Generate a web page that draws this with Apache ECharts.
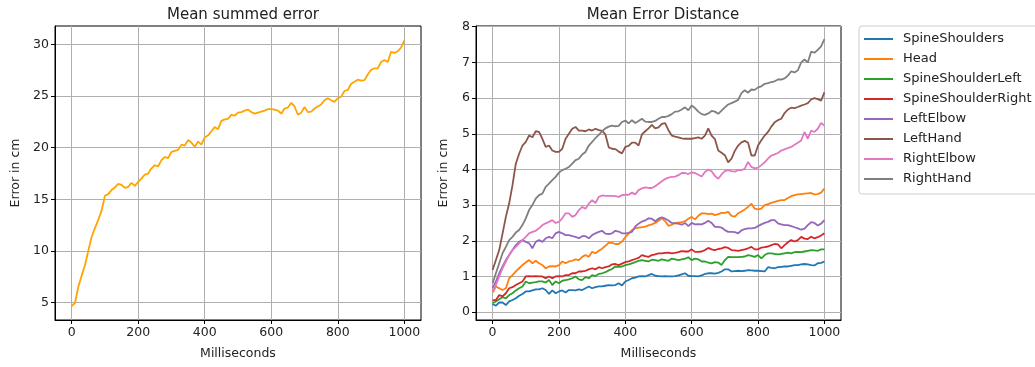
<!DOCTYPE html>
<html>
<head>
<meta charset="utf-8">
<script src="https://cdn.jsdelivr.net/npm/echarts@6/dist/echarts.min.js"></script>
<style>html,body{margin:0;padding:0;background:#fff;}#c{width:1035px;height:367px;}</style>
</head>
<body>
<div id="c"></div>
<script>
const ms = [0,10,20,30,40,50,60,70,80,90,100,110,120,130,140,150,160,170,180,190,200,210,220,230,240,250,260,270,280,290,300,310,320,330,340,350,360,370,380,390,400,410,420,430,440,450,460,470,480,490,500,510,520,530,540,550,560,570,580,590,600,610,620,630,640,650,660,670,680,690,700,710,720,730,740,750,760,770,780,790,800,810,820,830,840,850,860,870,880,890,900,910,920,930,940,950,960,970,980,990,1000];
const xTicks = [0,200,400,600,800,1000];
const yTicksLeft = [5,10,15,20,25,30];
const yTicksRight = [0,1,2,3,4,5,6,7,8];

const summedError = [4.66,4.95,6.5,7.6,8.6,10.0,11.35,12.2,13.0,13.9,15.35,15.5,15.9,16.15,16.5,16.4,16.1,16.2,16.6,16.3,16.7,17.0,17.4,17.5,18.0,18.3,18.2,18.8,19.1,19.0,19.6,19.7,19.8,20.3,20.2,20.75,20.5,20.1,20.6,20.3,21.0,21.2,21.6,22.0,21.8,22.6,22.75,22.8,23.2,23.1,23.4,23.45,23.6,23.7,23.45,23.3,23.4,23.5,23.6,23.75,23.75,23.7,23.6,23.3,23.8,23.9,24.35,24.0,23.2,23.4,23.95,23.45,23.5,23.8,24.0,24.2,24.6,24.8,24.6,24.45,24.8,24.95,25.5,25.6,26.2,26.4,26.6,26.5,26.55,27.1,27.55,27.7,27.7,28.3,28.5,28.3,29.3,29.2,29.35,29.7,30.4];

const spineShoulders = [0.23,0.18,0.27,0.27,0.2,0.3,0.34,0.39,0.46,0.51,0.58,0.58,0.61,0.64,0.64,0.67,0.62,0.51,0.61,0.53,0.58,0.61,0.55,0.62,0.62,0.61,0.64,0.62,0.67,0.72,0.67,0.7,0.72,0.72,0.74,0.76,0.75,0.76,0.81,0.75,0.86,0.9,0.95,0.97,1.0,1.01,1.0,1.04,1.07,1.02,1.01,1.0,1.01,1.0,1.0,1.01,1.03,1.06,1.09,1.02,1.01,1.01,1.0,1.03,1.07,1.09,1.09,1.08,1.1,1.14,1.2,1.2,1.14,1.15,1.16,1.15,1.16,1.18,1.17,1.16,1.16,1.15,1.14,1.26,1.24,1.23,1.26,1.27,1.28,1.28,1.3,1.32,1.32,1.34,1.35,1.34,1.32,1.31,1.37,1.38,1.42];
const head = [0.55,0.72,0.67,0.62,0.67,0.95,1.04,1.14,1.23,1.32,1.39,1.46,1.37,1.44,1.37,1.32,1.23,1.28,1.29,1.28,1.32,1.42,1.37,1.42,1.44,1.48,1.46,1.55,1.6,1.55,1.69,1.65,1.72,1.78,1.86,1.95,1.94,1.91,1.91,1.98,2.1,2.2,2.3,2.35,2.37,2.38,2.4,2.43,2.46,2.5,2.56,2.63,2.55,2.42,2.45,2.5,2.51,2.52,2.55,2.62,2.67,2.6,2.7,2.77,2.77,2.75,2.76,2.72,2.75,2.78,2.78,2.81,2.7,2.68,2.77,2.82,2.88,2.95,3.04,2.9,2.88,2.9,3.0,3.03,3.06,3.09,3.12,3.14,3.14,3.2,3.25,3.28,3.3,3.31,3.32,3.33,3.34,3.3,3.31,3.35,3.46];
const spineShoulderLeft = [0.25,0.3,0.36,0.42,0.39,0.48,0.53,0.61,0.67,0.72,0.86,0.81,0.83,0.84,0.86,0.86,0.83,0.9,0.76,0.86,0.81,0.88,0.9,0.92,0.95,1.0,0.92,0.9,0.98,0.95,1.04,1.01,1.07,1.09,1.12,1.17,1.21,1.28,1.27,1.28,1.32,1.34,1.37,1.4,1.44,1.46,1.44,1.42,1.47,1.46,1.44,1.48,1.46,1.44,1.5,1.48,1.46,1.48,1.5,1.54,1.46,1.5,1.48,1.42,1.42,1.39,1.37,1.4,1.39,1.32,1.46,1.55,1.54,1.54,1.54,1.55,1.56,1.6,1.58,1.55,1.6,1.51,1.6,1.65,1.65,1.63,1.62,1.63,1.65,1.67,1.65,1.68,1.69,1.68,1.7,1.72,1.74,1.73,1.72,1.76,1.76];
const spineShoulderRight = [0.33,0.34,0.48,0.44,0.53,0.67,0.7,0.76,0.81,0.86,1.0,1.01,1.0,1.01,1.0,1.0,0.95,1.0,0.95,1.0,1.01,1.0,1.04,1.04,1.09,1.09,1.14,1.14,1.16,1.2,1.23,1.2,1.26,1.23,1.26,1.28,1.34,1.35,1.32,1.36,1.4,1.42,1.46,1.49,1.52,1.6,1.57,1.55,1.6,1.62,1.65,1.65,1.66,1.67,1.65,1.66,1.68,1.71,1.7,1.7,1.76,1.69,1.69,1.7,1.74,1.8,1.76,1.74,1.77,1.79,1.82,1.8,1.74,1.73,1.72,1.74,1.76,1.79,1.83,1.76,1.76,1.81,1.82,1.84,1.88,1.91,1.9,1.79,1.88,1.96,2.02,1.98,2.02,2.11,2.06,2.05,2.11,2.07,2.1,2.15,2.21];
const leftElbow = [0.67,0.86,1.09,1.28,1.46,1.6,1.74,1.88,1.97,2.02,1.97,1.93,1.79,1.97,2.02,1.97,2.07,2.11,2.07,2.21,2.25,2.21,2.16,2.16,2.13,2.11,2.07,2.13,2.13,2.07,2.16,2.21,2.25,2.28,2.2,2.19,2.21,2.28,2.26,2.21,2.21,2.22,2.25,2.4,2.48,2.54,2.57,2.63,2.62,2.55,2.62,2.66,2.62,2.57,2.5,2.49,2.48,2.45,2.5,2.41,2.5,2.46,2.47,2.46,2.5,2.56,2.5,2.39,2.39,2.37,2.3,2.25,2.25,2.24,2.21,2.29,2.33,2.35,2.35,2.36,2.41,2.46,2.5,2.53,2.58,2.58,2.49,2.46,2.44,2.44,2.41,2.38,2.35,2.31,2.34,2.44,2.52,2.5,2.43,2.48,2.58];
const leftHand = [1.18,1.46,1.74,2.2,2.67,3.05,3.56,4.16,4.44,4.67,4.77,4.95,4.9,5.07,5.05,4.86,4.63,4.67,4.53,4.49,4.49,4.58,4.86,5.0,5.14,5.19,5.09,5.09,5.07,5.12,5.09,5.14,5.1,5.08,4.98,4.62,4.58,4.57,4.5,4.45,4.63,4.66,4.75,4.75,4.67,4.98,5.07,5.15,5.25,5.15,5.18,5.28,5.3,5.1,4.95,4.92,4.9,4.87,4.86,4.86,4.86,4.88,4.9,4.86,4.95,5.15,4.95,4.85,4.53,4.47,4.4,4.2,4.3,4.52,4.67,4.76,4.8,4.75,4.39,4.39,4.67,4.82,4.95,5.05,5.2,5.32,5.38,5.42,5.58,5.68,5.73,5.72,5.75,5.79,5.82,5.86,5.96,6.0,5.97,5.93,6.16];
const rightElbow = [0.58,0.76,1.0,1.23,1.42,1.6,1.74,1.83,1.93,2.02,2.11,2.21,2.25,2.28,2.35,2.44,2.49,2.53,2.58,2.5,2.53,2.63,2.77,2.77,2.67,2.72,2.86,2.95,2.9,3.04,3.14,3.06,3.23,3.27,3.26,3.26,3.26,3.25,3.23,3.28,3.29,3.29,3.35,3.3,3.42,3.47,3.5,3.48,3.48,3.53,3.6,3.67,3.73,3.77,3.79,3.8,3.84,3.9,3.9,3.87,3.92,3.9,3.85,3.8,3.93,4.0,3.95,3.82,3.74,3.86,3.95,3.98,3.95,3.94,3.98,3.98,4.02,4.21,4.07,4.03,4.05,4.12,4.2,4.3,4.39,4.42,4.46,4.53,4.56,4.6,4.63,4.69,4.75,4.81,5.05,4.86,5.09,5.05,5.14,5.3,5.23];
const rightHand = [0.81,1.09,1.37,1.65,1.83,2.02,2.11,2.23,2.3,2.44,2.63,2.86,3.0,3.18,3.28,3.32,3.51,3.6,3.7,3.79,3.91,3.98,4.02,4.07,4.16,4.26,4.3,4.42,4.49,4.67,4.77,4.88,4.97,5.07,5.15,5.2,5.23,5.21,5.22,5.33,5.37,5.29,5.38,5.3,5.36,5.42,5.34,5.33,5.33,5.36,5.42,5.47,5.47,5.5,5.55,5.62,5.63,5.68,5.74,5.66,5.79,5.72,5.62,5.55,5.53,5.57,5.64,5.62,5.56,5.65,5.74,5.82,5.86,5.9,5.95,6.14,6.22,6.15,6.24,6.23,6.3,6.33,6.4,6.42,6.45,6.47,6.52,6.52,6.55,6.63,6.75,6.72,6.78,7.0,7.08,7.0,7.3,7.27,7.35,7.45,7.65];

const jointNames = ['SpineShoulders','Head','SpineShoulderLeft','SpineShoulderRight','LeftElbow','LeftHand','RightElbow','RightHand'];
const jointData = [spineShoulders, head, spineShoulderLeft, spineShoulderRight, leftElbow, leftHand, rightElbow, rightHand];
const jointColors = ['#1f77b4','#ff7f0e','#2ca02c','#d62728','#9467bd','#8c564b','#e377c2','#7f7f7f'];

const FONT = 'DejaVu Sans';
const TXT = '#222';
const FS = 12.5;
function pairs(arr){ return ms.map((t,i)=>[t,arr[i]]); }
function xAxis(idx){
  return {
    gridIndex: idx, type: 'value', min: -50, max: 1050,
    name: 'Milliseconds', nameLocation: 'middle', nameGap: 27,
    nameTextStyle: {fontFamily: FONT, fontSize: FS, color: TXT},
    axisLine: {show: true, onZero: false, lineStyle: {color: '#000', width: 1}},
    axisTick: {show: true, length: 4, customValues: xTicks, lineStyle: {color: '#000'}},
    axisLabel: {customValues: xTicks, margin: 6, fontFamily: FONT, fontSize: FS, color: TXT, formatter: v => String(v)},
    splitLine: {show: true, lineStyle: {color: '#b0b0b0', width: 1}}
  };
}
function yAxis(idx, min, max, ticks, gap){
  return {
    gridIndex: idx, type: 'value', min: min, max: max,
    name: 'Error in cm', nameLocation: 'middle', nameGap: gap, nameRotate: 90,
    nameTextStyle: {fontFamily: FONT, fontSize: FS, color: TXT},
    axisLine: {show: true, onZero: false, lineStyle: {color: '#000', width: 1}},
    axisTick: {show: true, length: 4, customValues: ticks, lineStyle: {color: '#000'}},
    axisLabel: {customValues: ticks, margin: 6, fontFamily: FONT, fontSize: FS, color: TXT, formatter: v => String(v)},
    splitLine: {show: true, lineStyle: {color: '#b0b0b0', width: 1}}
  };
}

const series = [{
  type: 'line', xAxisIndex: 0, yAxisIndex: 0, data: pairs(summedError),
  symbol: 'none', lineStyle: {color: '#ffa500', width: 1.8}, itemStyle: {color: '#ffa500'}, z: 3
}];
jointNames.forEach((n, k) => {
  series.push({
    name: n, type: 'line', xAxisIndex: 1, yAxisIndex: 1, data: pairs(jointData[k]),
    symbol: 'none', lineStyle: {color: jointColors[k], width: 1.8}, itemStyle: {color: jointColors[k]}, z: 3
  });
});

const chart = echarts.init(document.getElementById('c'), null, {renderer: 'canvas'});
chart.setOption({
  animation: false,
  backgroundColor: '#fff',
  title: [
    {text: 'Mean summed error', left: 238, top: 3, textAlign: 'center', textStyle: {fontFamily: FONT, fontSize: 15, fontWeight: 'normal', color: TXT}},
    {text: 'Mean Error Distance', left: 658, top: 3, textAlign: 'center', textStyle: {fontFamily: FONT, fontSize: 15, fontWeight: 'normal', color: TXT}}
  ],
  grid: [
    {left: 55, top: 26, width: 366, height: 294, show: true, borderColor: '#000', borderWidth: 1, backgroundColor: 'transparent'},
    {left: 476, top: 26, width: 365, height: 294, show: true, borderColor: '#000', borderWidth: 1, backgroundColor: 'transparent'}
  ],
  xAxis: [xAxis(0), xAxis(1)],
  yAxis: [yAxis(0, 3.3, 31.8, yTicksLeft, 33), yAxis(1, -0.22, 8.02, yTicksRight, 26)],
  legend: {
    data: jointNames, orient: 'vertical', left: 859, top: 26,
    icon: 'rect', itemWidth: 29, itemHeight: 2, itemGap: 6,
    padding: [6, 16, 8, 5],
    borderColor: '#cccccc', borderWidth: 1, borderRadius: 3, backgroundColor: '#fff',
    textStyle: {fontFamily: FONT, fontSize: 13, color: TXT, padding: [0,0,0,5], lineHeight: 14}
  },
  series: series
});
</script>
</body>
</html>
